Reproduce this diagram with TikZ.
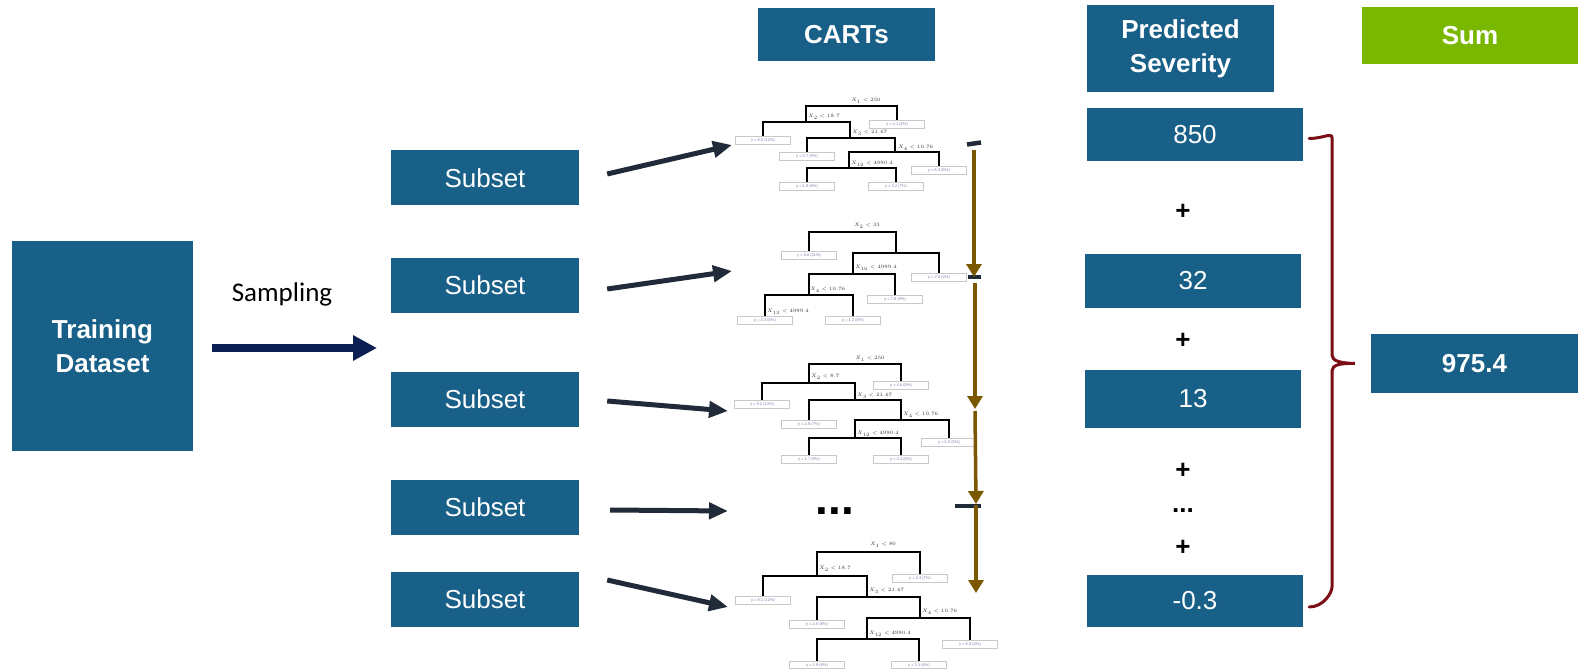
\documentclass[tikz,border=0pt]{standalone}
\usepackage{fontspec}
\setmainfont{Liberation Sans}
\newfontfamily\samplingfont{Carlito}
\usetikzlibrary{arrows.meta}

\definecolor{boxblue}{RGB}{24,96,135}
\definecolor{sumgreen}{RGB}{122,184,0}
\definecolor{navyarrow}{RGB}{12,31,85}
\definecolor{slatearrow}{RGB}{32,42,56}
\definecolor{olivebrown}{RGB}{122,88,0}
\definecolor{bracered}{RGB}{122,14,20}
\definecolor{leafgray}{RGB}{200,200,200}
\definecolor{leaftext}{RGB}{120,130,170}

% one split of a tree: bar from l to r at height h, drops to bl (left) and br (right)
\newcommand\splitbar[5]{\draw[branch] (#1,#4) -- (#1,#3) -- (#2,#3) -- (#2,#5);}
% a leaf box hanging below a drop
\newcommand\leafbox[4]{\node[leaf] (#1) at (#2,#3) {#4};}

\begin{document}
\begin{tikzpicture}[x=1pt,y=-1pt,
  bluebox/.style={fill=boxblue, text=white, inner sep=0pt, align=center,
    font=\fontsize{26}{30}\selectfont},
  headbox/.style={bluebox, font=\fontsize{26}{34}\selectfont\bfseries},
  greenbox/.style={headbox, fill=sumgreen},
  branch/.style={line width=1.6pt, black},
  leaf/.style={draw=leafgray, line width=0.8pt, minimum width=55pt, minimum height=7.5pt,
    inner sep=0pt, text=leaftext, font=\fontsize{4}{4}\selectfont},
  splitlbl/.style={inner sep=0pt, text=black!80, font=\fontsize{5.5}{6}\selectfont},
  feed/.style={slatearrow, line width=5pt, -{Triangle[length=19pt,width=16pt]}},
  chain/.style={olivebrown, line width=3.5pt, -{Triangle[length=13pt,width=15pt]}},
  stub/.style={slatearrow, line width=4.5pt},
  plus/.style={inner sep=0pt, font=\fontsize{26}{30}\selectfont\bfseries}
]
\useasboundingbox (0,0) rectangle (1579,671);

% ---- input data and sampling ----
\node[headbox, minimum width=181pt, minimum height=210pt] (train) at (102.5,346)
  {Training\\Dataset};
\node[inner sep=0pt, font=\fontsize{27}{30}\samplingfont] (samp) at (282,294) {Sampling};
\coordinate (sampto) at (377,348);
\draw[navyarrow, line width=8.5pt, -{Triangle[length=24pt,width=24pt]}]
  ([xshift=19pt,yshift=-2pt]train.east) -- (sampto);

% ---- subsets ----
\foreach \y/\n in {178/1, 285.5/2, 399/3, 507.5/4, 599/5}
  \node[bluebox, minimum width=188pt, minimum height=55pt] (sub\n) at (485,\y) {Subset};

% ---- column headers ----
\node[headbox, minimum width=177pt, minimum height=53pt] (carts) at (846.5,34.5) {CARTs};
\node[headbox, minimum width=187pt, minimum height=87pt] (pred) at (1180.5,48.5)
  {Predicted\\Severity};
\node[greenbox, minimum width=216pt, minimum height=57pt] (sum) at (1470,36) {Sum};

% ---- tree 1 ----
\splitbar{806}{897}{106}{122}{121}
\splitbar{763}{850}{122}{137}{138}
\splitbar{807}{895}{138}{153}{152}
\splitbar{849}{939}{152}{168}{167}
\splitbar{807}{896}{168}{183}{183}
\node[splitlbl] (ta0) at (866,101) {$X_{1}<250$};
\node[splitlbl, anchor=west] (ta1) at (808,117) {$X_{2}<18.7$};
\node[splitlbl, anchor=west] (ta2) at (852,133) {$X_{3}<21.67$};
\node[splitlbl, anchor=west] (ta3) at (898,148) {$X_{4}<10.76$};
\node[splitlbl, anchor=west] (ta4) at (851,164) {$X_{12}<4990.4$};
\leafbox{la1}{897}{124.5}{y = 4.1 (6\%)}
\leafbox{la2}{763}{140.5}{y = 8.5 (12\%)}
\leafbox{la3}{807}{156.5}{y = 2.7 (9\%)}
\leafbox{la4}{939}{170.5}{y = 6.3 (5\%)}
\leafbox{la5}{807}{186.5}{y = 1.9 (8\%)}
\leafbox{la6}{896}{186.5}{y = 3.2 (7\%)}

% ---- tree 2 ----
\splitbar{809}{896}{232}{252}{253}
\splitbar{853}{939}{253}{274}{274}
\splitbar{809}{895}{274}{295}{296}
\splitbar{765}{853}{295}{317}{317}
\node[splitlbl] (tb0) at (867,226) {$X_{2}<33$};
\node[splitlbl, anchor=west] (tb1) at (855,268) {$X_{16}<4999.4$};
\node[splitlbl, anchor=west] (tb2) at (810,290) {$X_{4}<10.76$};
\node[splitlbl, anchor=west] (tb3) at (767,312) {$X_{13}<4999.4$};
\leafbox{lb1}{809}{255.5}{y = 5.6 (11\%)}
\leafbox{lb2}{939}{277.5}{y = 2.4 (4\%)}
\leafbox{lb3}{895}{299.5}{y = 7.8 (9\%)}
\leafbox{lb4}{765}{320.5}{y = 3.3 (6\%)}
\leafbox{lb5}{853}{320.5}{y = 1.2 (5\%)}

% ---- tree 3 ----
\splitbar{809}{901}{364}{383}{382}
\splitbar{762}{855}{383}{401}{400}
\splitbar{809}{901}{400}{421}{420}
\splitbar{855}{949}{420}{438}{439}
\splitbar{809}{901}{438}{456}{456}
\node[splitlbl] (tc0) at (870,359) {$X_{1}<250$};
\node[splitlbl, anchor=west] (tc1) at (811,377) {$X_{2}<8.7$};
\node[splitlbl, anchor=west] (tc2) at (857,396) {$X_{3}<21.67$};
\node[splitlbl, anchor=west] (tc3) at (903,415) {$X_{4}<10.76$};
\node[splitlbl, anchor=west] (tc4) at (857,434) {$X_{12}<4990.4$};
\leafbox{lc1}{901}{385.5}{y = 4.6 (8\%)}
\leafbox{lc2}{762}{404.5}{y = 9.2 (13\%)}
\leafbox{lc3}{809}{424.5}{y = 2.8 (7\%)}
\leafbox{lc4}{949}{442.5}{y = 5.9 (5\%)}
\leafbox{lc5}{809}{459.5}{y = 1.7 (9\%)}
\leafbox{lc6}{901}{459.5}{y = 3.4 (6\%)}

% ---- tree 4 ----
\splitbar{817}{920}{552}{576}{575}
\splitbar{763}{867}{576}{597}{597}
\splitbar{817}{920}{597}{620}{618}
\splitbar{867}{970}{618}{639}{640}
\splitbar{817}{919}{639}{661}{661}
\node[splitlbl] (td0) at (883,545) {$X_{1}<80$};
\node[splitlbl, anchor=west] (td1) at (819,569) {$X_{2}<18.7$};
\node[splitlbl, anchor=west] (td2) at (869,591) {$X_{3}<21.67$};
\node[splitlbl, anchor=west] (td3) at (922,612) {$X_{4}<10.76$};
\node[splitlbl, anchor=west] (td4) at (869,634) {$X_{12}<4990.4$};
\leafbox{ld1}{920}{578.5}{y = 4.3 (7\%)}
\leafbox{ld2}{763}{600.5}{y = 8.1 (12\%)}
\leafbox{ld3}{817}{624.5}{y = 2.6 (8\%)}
\leafbox{ld4}{970}{644.5}{y = 6.0 (4\%)}
\leafbox{ld5}{817}{665}{y = 1.8 (9\%)}
\leafbox{ld6}{919}{665}{y = 3.1 (6\%)}

% elided trees
\node[inner sep=0pt, font=\fontsize{46}{46}\selectfont\bfseries] (cdots) at (835,511) {...};

% ---- subsets feed the trees ----
\coordinate (f1) at (732,145);
\coordinate (f2) at (732,271);
\coordinate (f3) at (728,411);
\coordinate (f4) at (728,511);
\coordinate (f5) at (728,607);
\draw[feed] ([xshift=28pt,yshift=4pt]sub1.east) -- (f1);
\draw[feed] ([xshift=28pt,yshift=-3.5pt]sub2.east) -- (f2);
\draw[feed] ([xshift=28pt,yshift=-2pt]sub3.east) -- (f3);
\draw[feed] ([xshift=31pt,yshift=-2.5pt]sub4.east) -- (f4);
\draw[feed] ([xshift=28pt,yshift=19pt]sub5.east) -- (f5);

% ---- tree outputs chained down the column ----
\coordinate (c0) at (974,150);
\coordinate (c1) at (974,277);
\coordinate (c2) at (975,283);
\coordinate (c3) at (975,409);
\coordinate (c4) at (975,411);
\coordinate (c5) at (976,504);
\coordinate (c6) at (976,505);
\coordinate (c7) at (976,593);
\draw[stub] (967,144.5) -- (981,142.5);
\draw[stub] (968,277) -- (981,277);
\draw[stub] (955,506) -- (981,506);
\draw[chain] (c0) -- (c1);
\draw[chain] (c2) -- (c3);
\draw[chain] (c4) -- (c5);
\draw[chain] (c6) -- (c7);

% ---- predicted values ----
\node[bluebox, minimum width=216pt, minimum height=53pt] (v1) at (1195,134.5) {850};
\node[bluebox, minimum width=216pt, minimum height=54pt] (v2) at (1193,281) {32};
\node[bluebox, minimum width=216pt, minimum height=58pt] (v3) at (1193,399) {13};
\node[bluebox, minimum width=216pt, minimum height=52pt] (v5) at (1195,601) {-0.3};
\node[plus] (p1) at (1183,212) {+};
\node[plus] (p2) at (1183,341) {+};
\node[plus] (p3) at (1183,471) {+};
\node[plus] (pdots) at (1183,511) {...};
\node[plus] (p4) at (1183,548) {+};

% ---- sum ----
\node[headbox, minimum width=207pt, minimum height=59pt] (total) at (1474.5,363.5) {975.4};
\coordinate (bt) at ([xshift=6pt,yshift=-4pt]v1.east);
\coordinate (bb) at ([xshift=6pt,yshift=-6pt]v5.east);
\coordinate (bm) at ([xshift=-16pt]total.west);
\draw[bracered, line width=3pt, line cap=round]
  (bt) .. controls +(14,0) and +(0,-6) .. (1332,138) -- (1332,355)
  .. controls (1332,361) and (1340,363) .. (bm)
  .. controls (1340,363) and (1332,365) .. (1332,371) -- (1332,587)
  .. controls +(0,6) and +(14,0) .. (bb);
\end{tikzpicture}
\end{document}
